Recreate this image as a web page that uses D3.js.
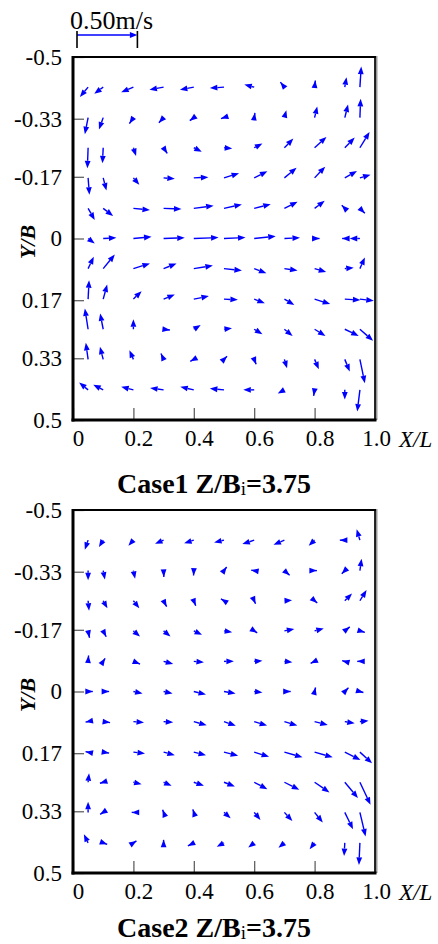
<!DOCTYPE html>
<html>
<head>
<meta charset="utf-8">
<script src="https://cdn.jsdelivr.net/npm/d3@7"></script>
<style>
  body { margin: 0; background: #fff; }
  svg text { font-family: "Liberation Serif", "Times New Roman", serif; fill: #000; }
</style>
</head>
<body>
<div id="chart"></div>
<script>
// grid points (X/L across, Y/B down)
const xCols = [0.05, 0.1, 0.2, 0.3, 0.4, 0.5, 0.6, 0.7, 0.8, 0.9, 0.95];
const yRows = [-0.417, -0.333, -0.25, -0.167, -0.083, 0, 0.083, 0.167, 0.25, 0.333, 0.417];

const xTicks = [0, 0.2, 0.4, 0.6, 0.8, 1.0];
const xTickLabels = ["0", "0.2", "0.4", "0.6", "0.8", "1.0"];
const yTicks = [-0.5, -0.33, -0.17, 0, 0.17, 0.33, 0.5];
const yTickLabels = ["-0.5", "-0.33", "-0.17", "0", "0.17", "0.33", "0.5"];

const caseNames = ["Case1", "Case2"];
const zbValue = "3.75";
const refSpeed = 0.5; // m/s, reference vector

// velocities in m/s, rows follow yRows, columns follow xCols
// u = along X/L, v = along Y/B (Y/B grows downward)
const case1U = [
  [-0.068, -0.074, -0.101, -0.117, -0.115, -0.117, -0.082, -0.033, 0.006, 0.014, 0.011],
  [-0.027, -0.035, -0.033, -0.039, -0.033, -0.025, 0.006, 0.016, 0.022, 0.027, 0.006],
  [-0.006, -0.006, 0.022, 0.030, 0.066, 0.068, 0.068, 0.074, 0.098, 0.082, 0.080],
  [0.011, 0.027, 0.049, 0.093, 0.121, 0.125, 0.109, 0.101, 0.088, 0.101, 0.088],
  [0.055, 0.082, 0.137, 0.148, 0.164, 0.148, 0.137, 0.109, 0.084, -0.025, 0.041],
  [0.055, 0.109, 0.150, 0.175, 0.205, 0.178, 0.178, 0.129, 0.041, -0.022, -0.084],
  [0.047, 0.096, 0.137, 0.107, 0.158, 0.148, 0.101, 0.109, 0.096, 0.074, 0.041],
  [0.008, 0.033, 0.068, 0.093, 0.125, 0.115, 0.088, 0.082, 0.129, 0.129, 0.115],
  [-0.027, -0.025, 0, 0.052, 0.057, 0.066, 0.068, 0.068, 0.090, 0.115, 0.109],
  [-0.019, -0.027, -0.033, -0.022, -0.029, 0.025, 0.016, 0.022, 0.035, 0.041, 0.041],
  [-0.074, -0.082, -0.101, -0.112, -0.112, -0.117, -0.090, -0.055, -0.008, 0, -0.022]
];
const case1V = [
  [0.082, 0.055, 0.043, 0.022, 0.021, 0.008, -0.021, -0.041, -0.055, -0.082, -0.170],
  [0.137, 0.098, 0.049, 0.043, 0.025, 0.008, -0.039, -0.060, -0.093, -0.109, -0.156],
  [0.170, 0.129, 0.068, 0.047, 0.033, 0.006, -0.035, -0.076, -0.090, -0.084, -0.131],
  [0.139, 0.104, 0.057, 0.008, -0.006, -0.039, -0.055, -0.084, -0.093, -0.057, -0.025],
  [0.096, 0.063, 0.014, 0.006, -0.022, -0.033, -0.035, -0.055, -0.063, -0.025, 0.041],
  [0.041, -0.006, -0.014, -0.006, -0.008, -0.008, -0.019, -0.006, 0, 0, 0],
  [-0.098, -0.117, -0.043, -0.043, -0.025, 0.016, 0.039, 0.016, 0.027, -0.008, -0.093],
  [-0.156, -0.121, -0.066, -0.039, -0.025, 0.006, 0.035, 0.049, 0.041, 0.008, 0.014],
  [-0.172, -0.131, -0.082, 0.006, -0.035, -0.008, 0.041, 0.055, 0.055, 0.055, 0.096],
  [-0.137, -0.104, -0.076, -0.049, 0.016, -0.025, 0.041, 0.074, 0.082, 0.101, 0.197],
  [-0.060, -0.043, -0.025, -0.016, -0.025, -0.011, 0, 0.030, 0.049, 0.080, 0.180]
];
const case2U = [
  [-0.027, -0.035, -0.041, -0.071, -0.080, -0.082, -0.098, -0.090, -0.049, -0.041, -0.027],
  [0, 0.014, 0.014, 0.002, -0.002, 0.022, -0.025, 0.043, 0.019, -0.025, 0.014],
  [0.008, 0.035, 0.049, 0.025, 0.016, -0.025, 0.011, 0.063, 0.022, 0.060, 0.055],
  [0.012, 0.025, 0.055, 0.057, 0.068, 0.068, 0.025, 0.082, 0.076, 0.041, 0.041],
  [0.004, 0.016, 0.055, 0.080, 0.084, 0.082, 0.068, 0.066, -0.033, -0.022, -0.022],
  [0.039, 0.049, 0.076, 0.074, 0.101, 0.096, 0.068, 0.052, 0.008, 0.030, 0.029],
  [-0.021, 0.057, 0.088, 0.080, 0.107, 0.098, 0.107, 0.107, 0.109, 0.082, 0.071],
  [-0.021, 0.049, 0.096, 0.093, 0.101, 0.117, 0.123, 0.150, 0.150, 0.129, 0.101],
  [0.008, -0.027, 0.068, 0.066, 0.084, 0.090, 0.109, 0.123, 0.123, 0.109, 0.088],
  [0, -0.025, -0.014, -0.008, -0.008, 0.055, 0.052, 0.066, 0.068, 0.068, 0.047],
  [-0.035, 0.033, 0.025, 0, -0.049, -0.060, -0.049, -0.049, -0.041, -0.006, -0.008]
];
const case2V = [
  [0.080, 0.057, 0.047, 0.030, 0.025, 0.019, 0.033, 0.039, 0.047, 0, -0.090],
  [0.080, 0.074, 0.068, 0.052, 0.041, -0.030, -0.004, 0.039, 0, 0.025, -0.098],
  [0.082, 0.063, 0.063, 0.049, 0.041, -0.016, 0.025, -0.004, 0.019, -0.060, -0.088],
  [0.057, 0.049, 0.047, 0.047, 0.033, 0.011, 0.016, -0.016, -0.019, -0.033, 0.012],
  [-0.049, -0.025, 0.022, 0.022, 0.008, 0, -0.006, 0.008, 0.016, -0.006, 0],
  [0, 0, 0.016, 0.016, 0.025, 0.016, 0.008, 0, -0.033, -0.031, 0.008],
  [0.004, 0.008, 0.008, 0.006, 0.030, 0.035, 0.033, 0.033, 0.027, 0.014, -0.008],
  [-0.004, 0.008, 0.011, 0.025, 0.025, 0.030, 0.039, 0.043, 0.043, 0.066, 0.093],
  [-0.074, 0.008, 0.016, 0.030, 0.030, 0.035, 0.057, 0.063, 0.084, 0.131, 0.186],
  [-0.088, 0.016, 0, -0.021, -0.025, 0.049, 0.063, 0.071, 0.084, 0.139, 0.199],
  [-0.071, 0.012, -0.016, -0.025, 0.025, 0.033, 0.039, 0.041, 0.052, 0.109, 0.183]
];

const W = 438, H = 944;
const left = 73, plotW = 302, plotH = 363;
const panelTops = [57, 510];
const titleGap = [73, 64];
const blue = "#0000ff";

const svg = d3.select("#chart").append("svg")
    .attr("width", W)
    .attr("height", H);

svg.append("rect").attr("width", W).attr("height", H).attr("fill", "#fff");

const x = d3.scaleLinear().domain([0, 1]).range([left, left + plotW]);
// speed (m/s) -> pixels, the reference arrow is 0.5 m/s
const vs = d3.scaleLinear().domain([0, refSpeed]).range([0, x(0.2) - x(0)]);

function drawArrow(g, x1, y1, x2, y2) {
  const dx = x2 - x1, dy = y2 - y1;
  const L = Math.hypot(dx, dy);
  if (L < 0.01) return;
  const ux = dx / L, uy = dy / L;
  const hl = 7.5, hw = 2.9;
  const bx = x2 - ux * hl, by = y2 - uy * hl;
  g.append("line")
    .attr("x1", x1).attr("y1", y1)
    .attr("x2", L > hl ? bx : x2).attr("y2", L > hl ? by : y2)
    .attr("stroke", blue)
    .attr("stroke-width", 1.4);
  g.append("path")
    .attr("d", `M${x2},${y2}L${bx - uy * hw},${by + ux * hw}L${bx + uy * hw},${by - ux * hw}Z`)
    .attr("fill", blue);
}

const cases = [[case1U, case1V], [case2U, case2V]];

cases.forEach(function (c, k) {
  const top = panelTops[k];
  const y = d3.scaleLinear().domain([-0.5, 0.5]).range([top, top + plotH]);
  const g = svg.append("g");

  // vectors
  const ga = g.append("g");
  yRows.forEach(function (yr, i) {
    xCols.forEach(function (xc, j) {
      const u = c[0][i][j], v = c[1][i][j];
      drawArrow(ga, x(xc), y(yr), x(xc) + vs(u), y(yr) + vs(v));
    });
  });

  // y axis
  const yAxis = g.append("g")
    .attr("transform", `translate(${left},0)`)
    .call(d3.axisLeft(y)
      .tickValues(yTicks)
      .tickFormat((d, i) => yTickLabels[i])
      .tickSizeInner(-11)
      .tickSizeOuter(0)
      .tickPadding(11));
  yAxis.select(".domain").remove();
  yAxis.selectAll("line").attr("stroke", "#555").attr("stroke-width", 1.2);
  yAxis.selectAll("text")
    .attr("font-size", 23)
    .attr("font-family", "Liberation Serif")
    .attr("fill", "#000");

  // x axis
  const xAxis = g.append("g")
    .attr("transform", `translate(0,${top + plotH})`)
    .call(d3.axisBottom(x)
      .tickValues(xTicks)
      .tickFormat((d, i) => xTickLabels[i])
      .tickSizeInner(-12)
      .tickSizeOuter(0)
      .tickPadding(10));
  xAxis.select(".domain").remove();
  xAxis.selectAll("line").attr("stroke", "#555").attr("stroke-width", 1.2);
  xAxis.selectAll("text")
    .attr("font-size", 23)
    .attr("font-family", "Liberation Serif")
    .attr("fill", "#000")
    .attr("dx", (d, i) => i === xTicks.length - 1 ? 1 : 5);

  // frame
  g.append("line").attr("x1", x(1) + 1).attr("x2", x(1) + 1)
    .attr("y1", top - 1).attr("y2", top + plotH)
    .attr("stroke", "#999").attr("stroke-width", 3);
  g.append("line").attr("x1", x(1)).attr("x2", x(1))
    .attr("y1", top - 1).attr("y2", top + plotH)
    .attr("stroke", "#000").attr("stroke-width", 1.6);
  g.append("line").attr("x1", left).attr("x2", x(1) + 1)
    .attr("y1", top).attr("y2", top)
    .attr("stroke", "#000").attr("stroke-width", 2);
  g.append("line").attr("x1", left).attr("x2", left)
    .attr("y1", top - 1).attr("y2", top + plotH + 1.5)
    .attr("stroke", "#000").attr("stroke-width", 3);
  g.append("line").attr("x1", left - 1.5).attr("x2", x(1) + 1.5)
    .attr("y1", top + plotH).attr("y2", top + plotH)
    .attr("stroke", "#000").attr("stroke-width", 3);

  // axis titles
  g.append("text")
    .attr("x", 399)
    .attr("y", top + plotH + 27)
    .attr("font-size", 23)
    .attr("font-style", "italic")
    .text("X/L");

  g.append("text")
    .attr("transform", `translate(35,${top + 185}) rotate(-90)`)
    .attr("text-anchor", "middle")
    .attr("font-size", 22)
    .attr("font-style", "italic")
    .attr("font-weight", "bold")
    .text("Y/B");

  // case title
  const t = g.append("text")
    .attr("x", 214)
    .attr("y", top + plotH + titleGap[k])
    .attr("text-anchor", "middle")
    .attr("font-size", 28)
    .attr("font-weight", "bold");
  t.append("tspan").text(caseNames[k] + " Z/B");
  t.append("tspan").attr("font-size", 19).attr("font-weight", "normal").attr("dy", 2).text("i");
  t.append("tspan").attr("dy", -2).text("=" + zbValue);
});

// reference vector
const rx = 77, ry = 35;
const sb = svg.append("g");
drawArrow(sb, rx, ry, rx + vs(refSpeed), ry);
[rx, rx + vs(refSpeed)].forEach(function (px) {
  sb.append("line")
    .attr("x1", px).attr("x2", px)
    .attr("y1", 31).attr("y2", 48)
    .attr("stroke", "#000").attr("stroke-width", 1.6);
});
sb.append("text")
  .attr("x", 70)
  .attr("y", 29)
  .attr("font-size", 26)
  .text(refSpeed.toFixed(2) + "m/s");
</script>
</body>
</html>
